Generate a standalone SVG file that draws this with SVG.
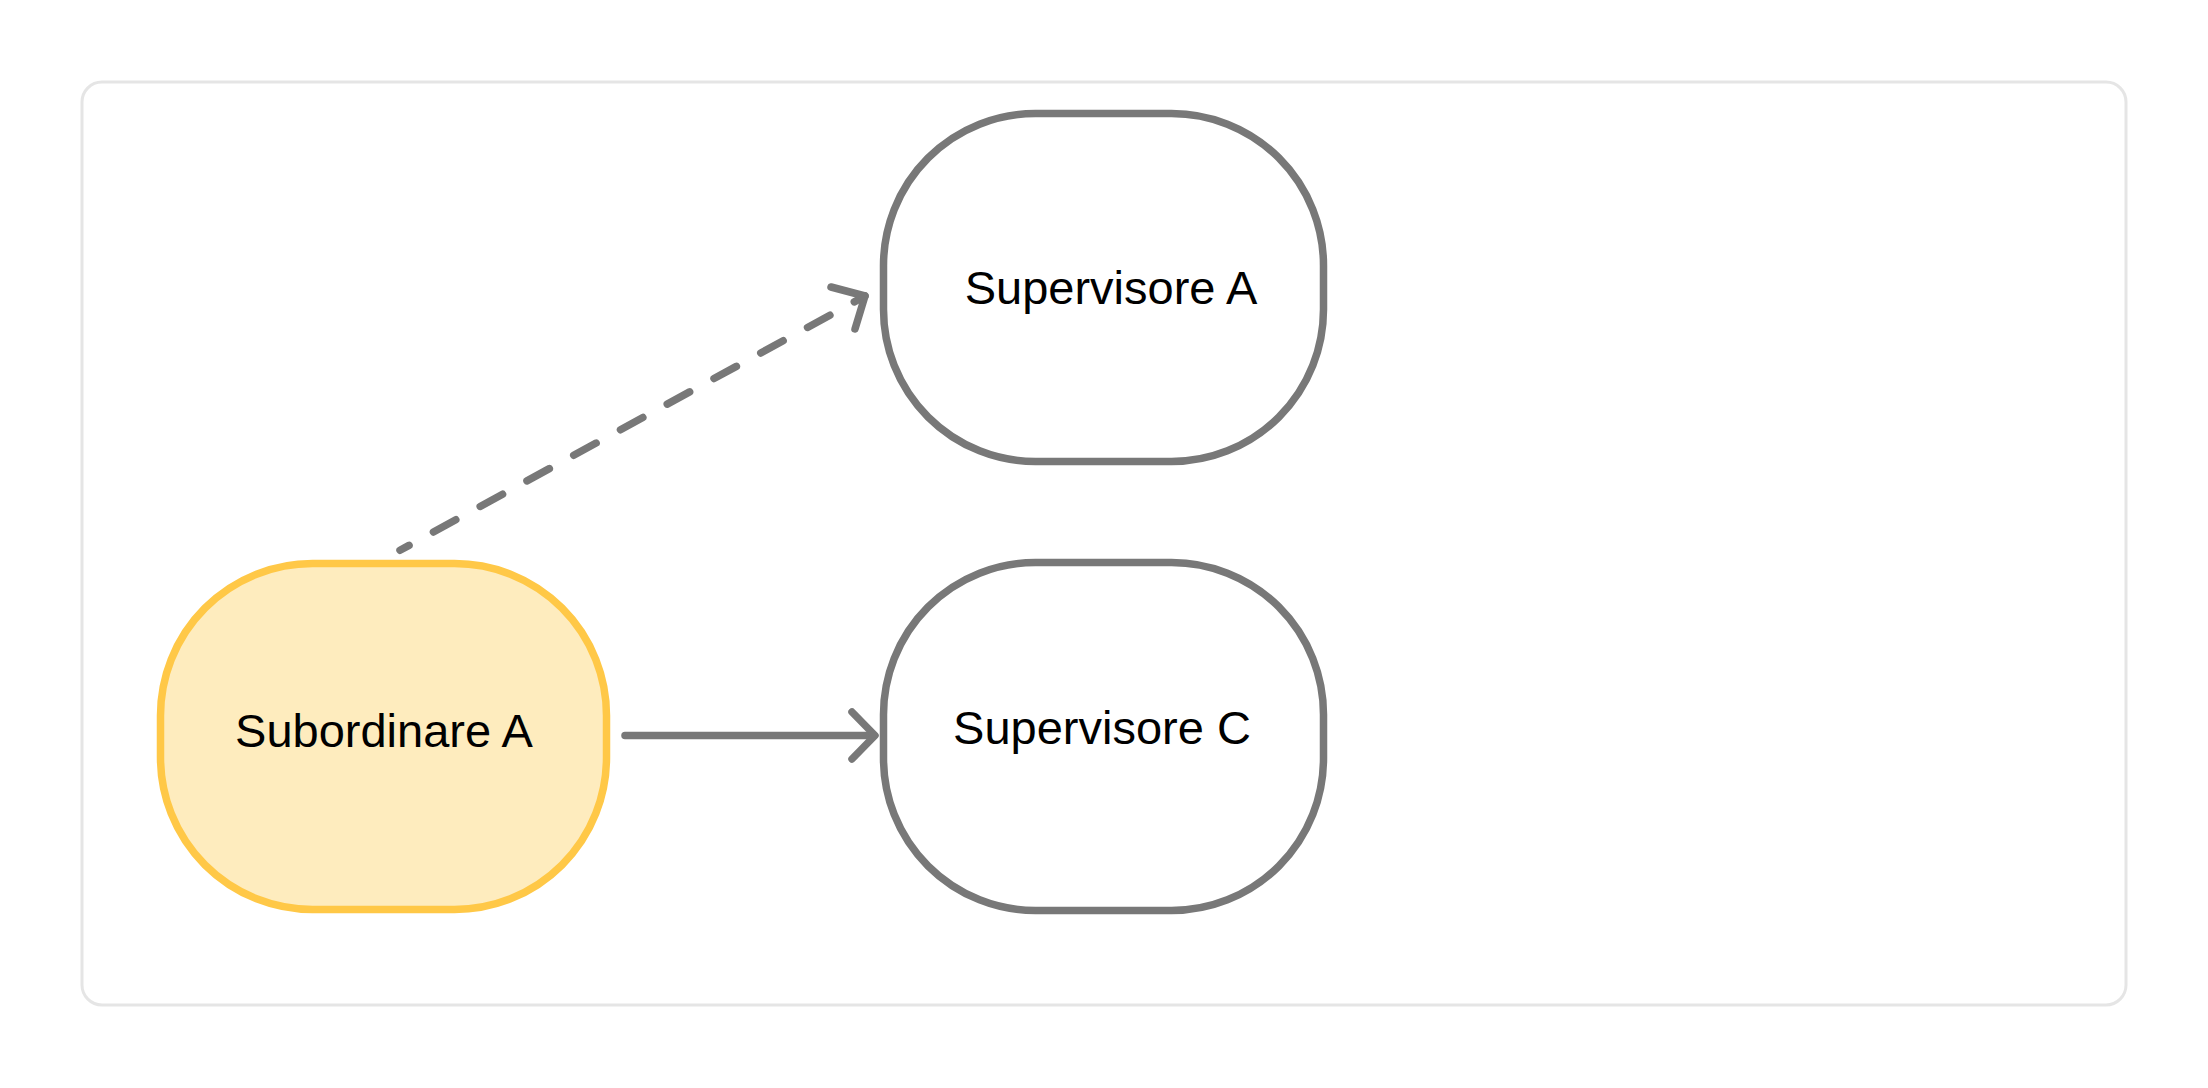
<svg xmlns="http://www.w3.org/2000/svg" width="2208" height="1088" viewBox="0 0 2208 1088">
  <style>
    .frame { fill: #ffffff; stroke: #e5e5e5; stroke-width: 3; }
    .node { fill: #ffffff; stroke: #787878; stroke-width: 7.5; }
    .node.hl { fill: #feecbe; stroke: #ffc847; }
    .label { font-family: "Liberation Sans", Arial, Helvetica, sans-serif; font-size: 47px; fill: #000000; text-anchor: middle; }
    .edge { fill: none; stroke: #787878; stroke-width: 7.5; stroke-linecap: round; stroke-linejoin: round; }
    .dashed { stroke-dasharray: 25.5 27.8; stroke-dashoffset: 15.2; }
  </style>
  <rect width="2208" height="1088" fill="#ffffff"/>
  <rect class="frame" x="82" y="82" width="2044" height="923" rx="20" ry="20"/>

  <g id="connectors">
    <g id="edge-sub-supA">
      <path class="edge dashed" d="M400,550.3 L865,296"/>
      <polyline class="edge" points="831,287 865,296 855,329"/>
    </g>
    <g id="edge-sub-supC">
      <path class="edge" d="M625,735.5 L874,735.5"/>
      <polyline class="edge" points="852,712 875,735.5 852,759"/>
    </g>
  </g>

  <g id="node-subordinare-a">
    <rect class="node hl" x="160.5" y="563.5" width="446" height="346" rx="152" ry="152"/>
    <text class="label" x="384" y="747">Subordinare A</text>
  </g>

  <g id="node-supervisore-a">
    <rect class="node" x="883.5" y="113.5" width="440" height="348" rx="152" ry="152"/>
    <text class="label" x="1111" y="304">Supervisore A</text>
  </g>

  <g id="node-supervisore-c">
    <rect class="node" x="883.5" y="562.5" width="440" height="348" rx="152" ry="152"/>
    <text class="label" x="1102" y="744">Supervisore C</text>
  </g>
</svg>
